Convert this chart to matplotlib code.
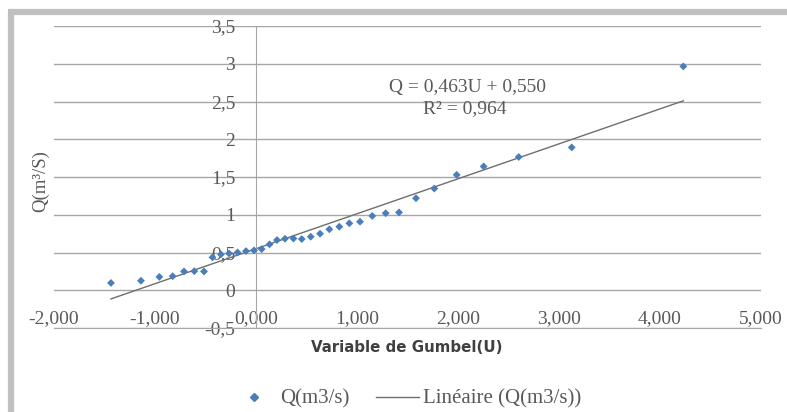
import numpy as np
import matplotlib
matplotlib.use('Agg')
import matplotlib.pyplot as plt
from matplotlib.lines import Line2D

u = [-1.436, -1.139, -0.957, -0.825, -0.713, -0.611, -0.515, -0.431, -0.347,
     -0.267, -0.183, -0.099, -0.020, 0.056, 0.134, 0.208, 0.287, 0.371,
     0.453, 0.542, 0.634, 0.726, 0.825, 0.924, 1.030, 1.151, 1.284, 1.416,
     1.584, 1.765, 1.987, 2.254, 2.601, 3.126, 4.231]
q = [0.097, 0.126, 0.177, 0.186, 0.249, 0.253, 0.249, 0.436, 0.475,
     0.488, 0.501, 0.519, 0.528, 0.545, 0.608, 0.665, 0.682, 0.685,
     0.678, 0.709, 0.749, 0.807, 0.842, 0.887, 0.908, 0.984, 1.020, 1.031,
     1.219, 1.347, 1.529, 1.640, 1.765, 1.892, 2.965]

slope = 0.463
intercept = 0.550
r2 = 0.964

xticks = [-2, -1, 0, 1, 2, 3, 4, 5]
xticklabels = ['-2,000', '-1,000', '0,000', '1,000', '2,000', '3,000', '4,000', '5,000']
yticks = [-0.5, 0, 0.5, 1, 1.5, 2, 2.5, 3, 3.5]
yticklabels = ['-0,5', '0', '0,5', '1', '1,5', '2', '2,5', '3', '3,5']

serif = 'Liberation Serif'
txt_col = '#595959'
grid_col = '#a6a6a6'
pt_col = '#4a7ebb'

fig = plt.figure(figsize=(7.87, 4.12), dpi=100)
ax = fig.add_axes([54/787, 1-328/412, 707/787, 302/412])

# outer gray frame (top and left edges)
fig.add_artist(Line2D([11/787, 11/787], [0, 1-12/412], transform=fig.transFigure,
                      color='#c0c0c0', lw=4.5, solid_capstyle='butt'))
fig.add_artist(Line2D([8/787, 1], [1-12/412, 1-12/412], transform=fig.transFigure,
                      color='#c0c0c0', lw=4.5, solid_capstyle='butt'))

ax.set_xlim(-2, 5)
ax.set_ylim(-0.5, 3.5)
ax.grid(axis='y', color=grid_col, lw=1)
ax.set_axisbelow(True)

for s in ['top', 'right']:
    ax.spines[s].set_visible(False)
ax.spines['left'].set_position(('data', 0))
ax.spines['left'].set_color(grid_col)
ax.spines['bottom'].set_color(grid_col)

ax.set_xticks(xticks)
ax.set_xticklabels(xticklabels, fontfamily=serif, fontsize=14, color=txt_col)
ax.set_yticks(yticks)
ax.set_yticklabels(yticklabels, fontfamily=serif, fontsize=14, color=txt_col)
ax.tick_params(axis='y', length=0, pad=15)
ax.tick_params(axis='x', length=0, pad=-13)

xl = np.array([min(u), max(u)])
ax.plot(xl, slope*xl + intercept, color='#6e6e6e', lw=1, zorder=2)
ax.scatter(u, q, marker='D', s=16, color=pt_col, edgecolors='none', zorder=3)

ax.text(2.09, 2.68, 'Q = 0,463U + 0,550', fontfamily=serif, fontsize=14,
        color=txt_col, ha='center', va='center')
ax.text(2.07, 2.41, 'R² = %s' % str(r2).replace('.', ','), fontfamily=serif, fontsize=14,
        color=txt_col, ha='center', va='center')

fig.text(407/787, 1-347/412, 'Variable de Gumbel(U)', fontfamily='DejaVu Sans',
         fontweight='bold', fontsize=10.8, color='#404040', ha='center', va='center')
fig.text(41/787, 1-181/412, 'Q(m³/S)', fontfamily=serif, fontsize=13.5, color=txt_col,
         rotation=90, ha='center', va='center')

handles = [Line2D([], [], marker='D', ls='none', color=pt_col, ms=4),
           Line2D([], [], color='#6e6e6e', lw=1)]
fig.legend(handles, ['Q(m3/s)', 'Linéaire (Q(m3/s))'], loc='center',
           bbox_to_anchor=(407/787, 1-399/412), ncol=2, frameon=False,
           prop={'family': serif, 'size': 15}, labelcolor=txt_col,
           handlelength=2.07, columnspacing=1.3, handletextpad=0.2)

fig.savefig('out.png', dpi=100)
